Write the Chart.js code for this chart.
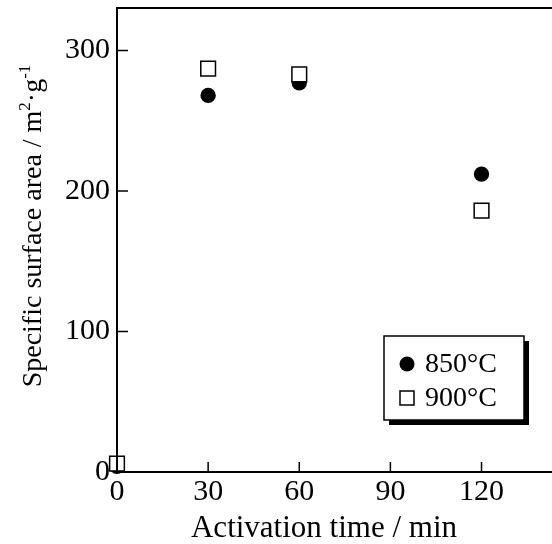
<!DOCTYPE html>
<html>
<head>
<meta charset="utf-8">
<script src="https://cdn.jsdelivr.net/npm/chart.js@4/dist/chart.umd.min.js"></script>
<style>
  html, body { margin: 0; padding: 0; background: #fff; overflow: hidden; }
  #wrap { width: 552px; height: 544px; }
</style>
</head>
<body>
<div id="wrap"><canvas id="grafico" width="552" height="544"></canvas></div>
<script>
// activation time (min)
const tiempos = [0, 30, 60, 120]
const serie850 = [4, 268, 277, 212]
const serie900 = [6, 287, 283, 186]
const xTicks = [0, 30, 60, 90, 120]
const yTicks = [0, 100, 200, 300]
const tituloX = "Activation time / min"

const FONT = "'Liberation Serif', 'Times New Roman', serif"
const FS = 28

const toPoints = (xs, ys) => xs.map((x, i) => ({x: x, y: ys[i]}))

// axis frame, inward ticks, axis titles, legend box
const marco = {
  id: "marco",
  afterDraw(chart) {
    const ctx = chart.ctx
    const a = chart.chartArea
    const sx = chart.scales.x, sy = chart.scales.y
    ctx.save()
    ctx.strokeStyle = "#000"
    ctx.lineWidth = 2
    ctx.beginPath()
    ctx.moveTo(a.left, a.bottom); ctx.lineTo(a.left, a.top); ctx.lineTo(chart.width, a.top)
    ctx.moveTo(a.left, a.bottom); ctx.lineTo(chart.width, a.bottom)
    ctx.stroke()
    ctx.lineWidth = 1.5
    ctx.beginPath()
    yTicks.forEach(v => {
      if (v === 0) return
      const y = sy.getPixelForValue(v)
      ctx.moveTo(a.left, y); ctx.lineTo(a.left + 11, y)
    })
    xTicks.forEach(v => {
      if (v === 0) return
      const x = sx.getPixelForValue(v)
      ctx.moveTo(x, a.bottom); ctx.lineTo(x, a.bottom - 10)
    })
    ctx.stroke()

    // x title
    ctx.fillStyle = "#000"
    ctx.font = "31px " + FONT
    ctx.textAlign = "center"
    ctx.textBaseline = "alphabetic"
    ctx.fillText(tituloX, 324, 537)

    // y title with superscripts
    const partes = [
      ["Specific surface area / m", false],
      ["2", true],
      ["\u00B7g", false],
      ["-1", true]
    ]
    const fNorm = FS + "px " + FONT
    const fSup = Math.round(FS * 0.62) + "px " + FONT
    let total = 0
    partes.forEach(p => { ctx.font = p[1] ? fSup : fNorm; total += ctx.measureText(p[0]).width })
    ctx.translate(31, 226)
    ctx.rotate(-Math.PI / 2)
    ctx.textAlign = "left"
    let px = -total / 2
    partes.forEach(p => {
      ctx.font = p[1] ? fSup : fNorm
      ctx.fillText(p[0], px, p[1] ? -1 : 10)
      px += ctx.measureText(p[0]).width
    })
    ctx.restore()

    // legend
    ctx.save()
    const bx = 384, by = 336, bw = 140, bh = 84
    ctx.fillStyle = "#000"
    ctx.fillRect(bx + 5, by + 5, bw, bh)
    ctx.fillStyle = "#fff"
    ctx.fillRect(bx, by, bw, bh)
    ctx.strokeStyle = "#000"
    ctx.lineWidth = 1.5
    ctx.strokeRect(bx, by, bw, bh)
    ctx.font = FS + "px " + FONT
    ctx.textBaseline = "middle"
    ctx.textAlign = "left"
    chart.data.datasets.forEach((ds, i) => {
      const cy = by + 28 + i * 34
      const cx = bx + 23
      if (ds.pointStyle === "circle") {
        ctx.fillStyle = "#000"
        ctx.beginPath(); ctx.arc(cx, cy, 7.5, 0, Math.PI * 2); ctx.fill()
      } else {
        ctx.fillStyle = "#fff"
        ctx.fillRect(cx - 7, cy - 7, 14, 14)
        ctx.strokeRect(cx - 7, cy - 7, 14, 14)
      }
      ctx.fillStyle = "#000"
      ctx.fillText(ds.label, bx + 41, cy + 1)
    })
    ctx.restore()
  }
}

const config = {
  type: "scatter",
  data: {
    datasets: [
      {
        label: "850\u00B0C",
        data: toPoints(tiempos, serie850),
        pointStyle: "circle",
        pointRadius: 7.7,
        pointHoverRadius: 7.7,
        backgroundColor: "#000",
        borderColor: "#000",
        borderWidth: 0,
        clip: false,
        order: 1
      },
      {
        label: "900\u00B0C",
        data: toPoints(tiempos, serie900),
        pointStyle: "rect",
        pointRadius: 10.4,
        pointHoverRadius: 10.4,
        backgroundColor: "#fff",
        borderColor: "#000",
        borderWidth: 1.5,
        clip: false,
        order: 0
      }
    ]
  },
  options: {
    responsive: false,
    animation: false,
    events: [],
    layout: { autoPadding: false, padding: { top: 8, right: 0, left: 0, bottom: 0 } },
    plugins: { legend: { display: false }, tooltip: { enabled: false } },
    scales: {
      x: {
        type: "linear",
        min: 0,
        max: 143.2,
        afterBuildTicks: s => { s.ticks = xTicks.map(v => ({value: v})) },
        afterFit: s => { s.height = 72; s.paddingLeft = 0; s.paddingRight = 0 },
        grid: { display: false },
        border: { display: false },
        ticks: { color: "#000", font: { family: FONT, size: 30 }, padding: -6, maxRotation: 0 }
      },
      y: {
        min: 0,
        max: 330.2,
        afterBuildTicks: s => { s.ticks = yTicks.map(v => ({value: v})) },
        afterFit: s => { s.width = 117; s.paddingTop = 0; s.paddingBottom = 0 },
        grid: { display: false },
        border: { display: false },
        ticks: { color: "#000", font: { family: FONT, size: 30 }, padding: -1 }
      }
    }
  },
  plugins: [marco]
}

new Chart(document.getElementById("grafico"), config)
</script>
</body>
</html>
